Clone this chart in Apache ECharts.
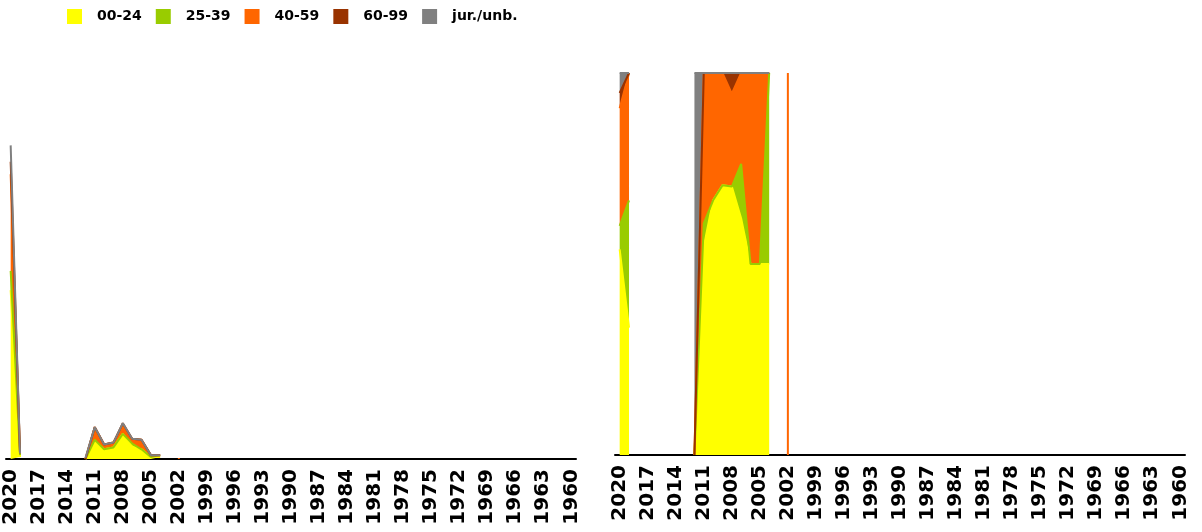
<!DOCTYPE html>
<html>
<head>
<meta charset="utf-8">
<script src="https://cdn.jsdelivr.net/npm/echarts@6/dist/echarts.min.js"></script>
<style>
  html, body { margin: 0; padding: 0; background: #fff; }
  #chart { width: 1202px; height: 532px; }
</style>
</head>
<body>
<div id="chart"></div>
<script>
// axis categories, newest year first
const years = []
for (let y = 2020; y >= 1960; y--) years.push(String(y))

// years that have values; every other year is missing
const dataYears = [2020, 2019, 2012, 2011, 2010, 2009, 2008, 2007, 2006, 2005, 2004, 2002]
const age00_24 = [175, 2, 0, 18, 10, 12, 26, 13, 10, 2, 2, 0]
const age25_39 = [20, 2, 0, 2, 0, 0, 0, 3, 0, 0, 2, 0]
const age40_59 = [100, 2, 0, 13, 5, 5, 9, 5, 10, 2, 0, 1]
const age60_99 = [13, 0, 0, 0, 0, 0, 2, 0, 0, 0, 0, 0]
const jurUnb = [17, 0, 1, 0, 0, 0, 0, 0, 0, 0, 0, 0]

const groups = [
  { name: '00-24', values: age00_24, color: '#FFFF00' },
  { name: '25-39', values: age25_39, color: '#99CC00' },
  { name: '40-59', values: age40_59, color: '#FF6600' },
  { name: '60-99', values: age60_99, color: '#993300' },
  { name: 'jur./unb.', values: jurUnb, color: '#808080' }
]

const onAxis = arr => years.map(y => {
  const i = dataYears.indexOf(Number(y))
  return i < 0 ? null : arr[i]
})

const totals = years.map(y => {
  const i = dataYears.indexOf(Number(y))
  if (i < 0) return null
  return groups.reduce((s, g) => s + g.values[i], 0)
})

// a point with no neighbours is drawn as a thin bar
const isolated = years.map((y, i) =>
  totals[i] != null && totals[i - 1] == null && totals[i + 1] == null)

const chart = echarts.init(document.getElementById('chart'))

const xAxisBase = {
  type: 'category',
  data: years,
  boundaryGap: true,
  axisLine: { lineStyle: { color: '#000', width: 2 } },
  axisTick: { alignWithLabel: true, interval: 2, length: 7, lineStyle: { color: '#000', width: 2 } },
  axisLabel: {
    interval: 2, rotate: 90, color: '#000', fontWeight: 'bold',
    fontSize: 20, fontFamily: 'DejaVu Sans', margin: 10
  },
  splitLine: { show: false }
}

const series = []
groups.forEach(g => {
  const abs = onAxis(g.values)
  const pct = abs.map((v, i) => v == null ? null : (totals[i] ? v / totals[i] * 100 : 0))
  ;[[abs, 0, 'abs'], [pct, 1, 'pct']].forEach(([data, k, stack]) => {
    series.push({
      type: 'line', name: g.name, xAxisIndex: k, yAxisIndex: k, stack: stack,
      data: data, symbol: 'none', connectNulls: false,
      lineStyle: { color: g.color, width: 2 },
      areaStyle: { color: g.color, opacity: 1 },
      itemStyle: { color: g.color },
      emphasis: { disabled: true }
    })
    series.push({
      type: 'bar', name: g.name, xAxisIndex: k, yAxisIndex: k, stack: stack + 'iso',
      data: data.map((v, i) => isolated[i] ? v : null),
      barWidth: 2, itemStyle: { color: g.color },
      emphasis: { disabled: true }
    })
  })
})

chart.setOption({
  animation: false,
  legend: {
    data: groups.map(g => g.name),
    left: 62, top: 4,
    icon: 'rect', itemWidth: 15, itemHeight: 15, itemGap: 14,
    textStyle: { fontFamily: 'DejaVu Sans', fontWeight: 'bold', fontSize: 14, color: '#000', padding: [0, 0, 0, 10] }
  },
  grid: [
    { left: 6, right: 626, top: 73, bottom: 73, outerBoundsMode: 'none' },
    { left: 615, right: 17, top: 73, bottom: 77, outerBoundsMode: 'none' }
  ],
  xAxis: [
    Object.assign({ gridIndex: 0 }, xAxisBase),
    Object.assign({ gridIndex: 1 }, xAxisBase)
  ],
  yAxis: [
    { gridIndex: 0, type: 'value', min: 0, max: 400, show: false, splitLine: { show: false } },
    { gridIndex: 1, type: 'value', min: 0, max: 100, show: false, splitLine: { show: false } }
  ],
  series: series
})
</script>
</body>
</html>
